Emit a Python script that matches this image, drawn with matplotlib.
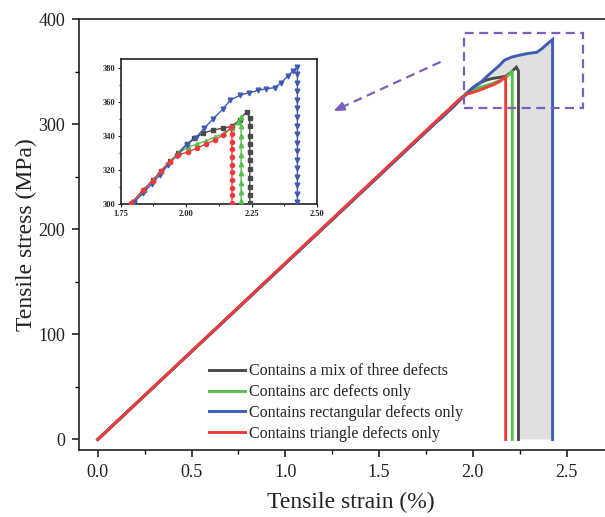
import numpy as np
import matplotlib
matplotlib.use('Agg')
import matplotlib.pyplot as plt
from matplotlib.patches import Rectangle
from matplotlib.ticker import MultipleLocator

plt.rcParams['font.family'] = ['Liberation Serif', 'DejaVu Serif']
plt.rcParams['mathtext.fontset'] = 'stix'

# ── Data: stress-strain curves (strain in %, stress in MPa) ──────────────────
mix_strain = [0, 1.80, 1.838, 1.872, 1.905, 1.940, 1.970, 2.003, 2.030, 2.066,
              2.104, 2.142, 2.175, 2.205, 2.232, 2.243,
              2.243, 2.243, 2.243, 2.243, 2.243, 2.243, 2.243, 2.243, 2.243,
              2.243, 2.243]
mix_stress = [0, 301.0, 308.0, 313.8, 319.5, 325.0, 330.0, 335.2, 338.5, 341.6,
              343.4, 344.5, 345.5, 349.5, 354.2, 350.5,
              345.6, 340.1, 335.4, 330.3, 325.6, 320.4, 315.1, 310.2, 305.3,
              300.4, 0]

arc_strain = [0, 1.795, 1.840, 1.875, 1.905, 1.940, 1.972, 2.007, 2.042, 2.076,
              2.112, 2.145, 2.175, 2.198, 2.210,
              2.210, 2.210, 2.210, 2.210, 2.210, 2.210, 2.210, 2.210, 2.210,
              2.210]
arc_stress = [0, 300.8, 308.6, 314.2, 319.5, 325.2, 330.2, 333.2, 335.2, 337.0,
              339.3, 341.5, 344.5, 347.8, 351.0,
              345.5, 340.0, 334.5, 329.0, 323.5, 318.0, 312.5, 307.0, 301.5,
              0]

rect_strain = [0, 1.802, 1.836, 1.868, 1.900, 1.932, 1.964, 2.002, 2.036, 2.069,
               2.103, 2.139, 2.169, 2.205, 2.241, 2.275, 2.307, 2.339, 2.364,
               2.389, 2.408, 2.425,
               2.425, 2.425, 2.425, 2.425, 2.425, 2.425, 2.425, 2.425, 2.425,
               2.425, 2.425, 2.425, 2.425, 2.425, 2.425, 2.425, 2.425]
rect_stress = [0, 301.4, 306.3, 311.8, 317.1, 323.0, 328.3, 334.8, 338.7, 344.4,
               349.9, 355.4, 360.9, 363.7, 365.3, 366.6, 367.6, 368.2, 371.2,
               375.1, 378.0, 380.5,
               376.0, 371.0, 366.0, 361.0, 356.0, 351.0, 346.0, 341.0, 336.0,
               331.0, 326.0, 321.0, 316.0, 311.0, 306.0, 301.0, 0]

tri_strain = [0, 1.790, 1.836, 1.872, 1.904, 1.938, 1.968, 2.006, 2.040, 2.076,
              2.110, 2.142, 2.173,
              2.175, 2.175, 2.175, 2.175, 2.175, 2.175, 2.175, 2.175, 2.175,
              2.175, 2.175]
tri_stress = [0, 300.5, 308.3, 313.7, 319.6, 324.9, 328.6, 330.5, 332.6, 335.2,
              337.6, 340.5, 345.0,
              341.0, 336.5, 332.0, 327.5, 323.0, 318.5, 314.0, 309.5, 305.0,
              300.5, 0]

labels = ['Contains a mix of three defects',
          'Contains arc defects only',
          'Contains rectangular defects only',
          'Contains triangle defects only']

# zoom window drawn on the main plot, and the arrow pointing at the inset
zoom_box = (1.952, 315.7, 0.635, 70.6)   # x, y, width, height
arrow_tail = (1.828, 359.2)
arrow_head = (1.257, 312.5)

series = [
    (mix_strain, mix_stress, '#4a4a4a', 's', 3.0),
    (arc_strain, arc_stress, '#55c04a', '^', 3.2),
    (rect_strain, rect_stress, '#3f5bb5', 'v', 3.4),
    (tri_strain, tri_stress, '#f03a3a', 'o', 3.0),
]
PURPLE = '#7b5fc0'
TEXT = '#222222'

# ── Figure / main axes ───────────────────────────────────────────────────────
fig = plt.figure(figsize=(6.05, 5.17), dpi=100)
ax = fig.add_axes([0.1306, 0.1296, 0.899, 0.8336])

# shaded area between the rectangular-defect curve and the mixed-defect curve
rs, rt = np.array(rect_strain), np.array(rect_stress)
ms_, mt = np.array(mix_strain), np.array(mix_stress)
i0 = np.argmax(rs >= 1.96)
j0 = np.argmax(ms_ >= 1.97)
poly_x = np.concatenate([rs[i0:], ms_[j0:][::-1]])
poly_y = np.concatenate([rt[i0:], mt[j0:][::-1]])
ax.fill(poly_x, poly_y, color='#e0e0e0', lw=0, zorder=1)

for (x, y, c, m, ms), lab in zip(series, labels):
    ax.plot(x, y, color=c, lw=2.1, label=lab, zorder=3, solid_joinstyle='miter')

ax.set_xlim(-0.1, 2.8)
ax.set_ylim(-10, 400)
ax.xaxis.set_major_locator(MultipleLocator(0.5))
ax.xaxis.set_minor_locator(MultipleLocator(0.25))
ax.yaxis.set_major_locator(MultipleLocator(100))
ax.yaxis.set_minor_locator(MultipleLocator(50))
ax.xaxis.set_major_formatter(plt.FuncFormatter(lambda v, p: f'{v:.1f}'))
ax.tick_params(which='major', direction='out', length=5, width=1.2,
               labelsize=13, colors='#222222', pad=5)
ax.tick_params(which='minor', direction='out', length=3, width=1.0)
ax.tick_params(top=False, right=False, which='both')
for s in ax.spines.values():
    s.set_linewidth(1.2)
    s.set_color('#222222')

ax.set_xlabel('Tensile strain (%)', fontsize=17, color=TEXT, labelpad=8)
ax.set_ylabel('Tensile stress (MPa)', fontsize=17, color=TEXT, labelpad=1)

leg = ax.legend(loc='upper left', bbox_to_anchor=(0.345, 0.297),
                bbox_transform=fig.transFigure, frameon=False, fontsize=11.5,
                handlelength=2.3, handletextpad=0.25, labelspacing=0.3,
                borderpad=0, borderaxespad=0)
for t in leg.get_texts():
    t.set_color(TEXT)

# dashed zoom window
ax.add_patch(Rectangle(zoom_box[:2], zoom_box[2], zoom_box[3], fill=False,
                       edgecolor=PURPLE, lw=1.6, ls=(0, (4, 2.5)), zorder=4))

# dashed arrow towards the inset
hx, hy = arrow_head
tx, ty = arrow_tail
ax.plot([tx, hx + (tx - hx) * 0.06], [ty, hy + (ty - hy) * 0.06],
        color=PURPLE, lw=1.6, ls=(0, (4, 2.5)), zorder=4)
ax.annotate('', xy=arrow_head, xytext=(hx + (tx - hx) * 0.09, hy + (ty - hy) * 0.09),
            arrowprops=dict(arrowstyle='-|>,head_length=0.6,head_width=0.25',
                            color=PURPLE, lw=1.6, shrinkA=0, shrinkB=0),
            zorder=4)

# ── Inset: close-up around the failure points ────────────────────────────────
ins = fig.add_axes([0.1995, 0.6054, 0.3245, 0.2805])
for x, y, c, m, ms in series:
    ins.plot(x, y, color=c, lw=1.0, marker=m, ms=ms, mec=c, mfc=c, zorder=3)
ins.set_xlim(1.75, 2.50)
ins.set_ylim(300, 385)
ins.xaxis.set_major_locator(MultipleLocator(0.25))
ins.xaxis.set_minor_locator(MultipleLocator(0.125))
ins.yaxis.set_major_locator(MultipleLocator(20))
ins.yaxis.set_minor_locator(MultipleLocator(10))
ins.xaxis.set_major_formatter(plt.FuncFormatter(lambda v, p: f'{v:.2f}'))
ins.tick_params(which='major', direction='out', length=2.5, width=0.8,
                labelsize=6, pad=1.5, colors=TEXT)
ins.tick_params(which='minor', direction='out', length=1.5, width=0.6)
for lab in ins.get_xticklabels() + ins.get_yticklabels():
    lab.set_fontweight('bold')
for s in ins.spines.values():
    s.set_linewidth(1.2)
    s.set_color('#222222')

fig.savefig('out.png', dpi=100)
